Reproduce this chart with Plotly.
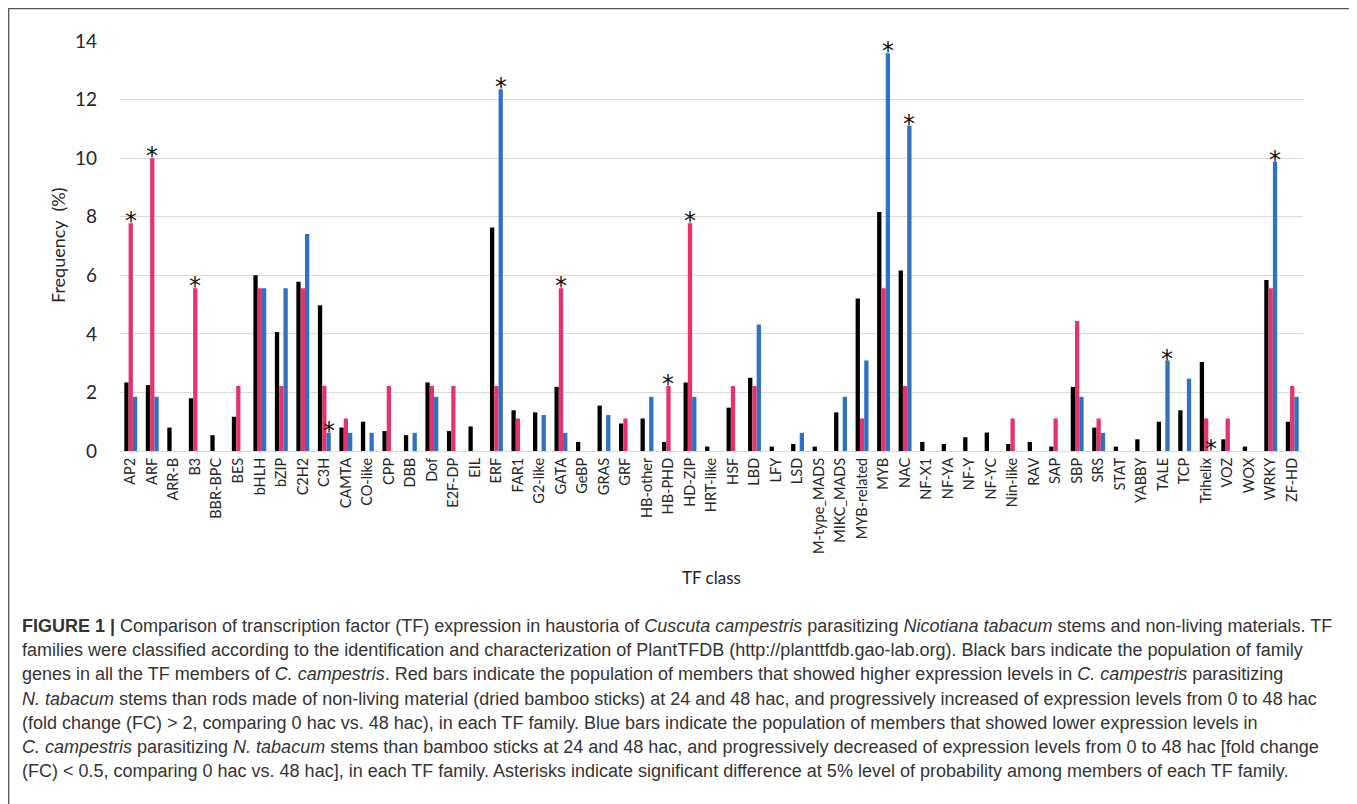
import plotly.graph_objects as go

categories = ["AP2", "ARF", "ARR-B", "B3", "BBR-BPC", "BES", "bHLH", "bZIP", "C2H2", "C3H",
              "CAMTA", "CO-like", "CPP", "DBB", "Dof", "E2F-DP", "EIL", "ERF", "FAR1", "G2-like",
              "GATA", "GeBP", "GRAS", "GRF", "HB-other", "HB-PHD", "HD-ZIP", "HRT-like", "HSF", "LBD",
              "LFY", "LSD", "M-type_MADS", "MIKC_MADS", "MYB-related", "MYB", "NAC", "NF-X1", "NF-YA", "NF-Y",
              "NF-YC", "Nin-like", "RAV", "SAP", "SBP", "SRS", "STAT", "YABBY", "TALE", "TCP",
              "Trihelix", "VOZ", "WOX", "WRKY", "ZF-HD"]

black_all = [2.34, 2.25, 0.80, 1.80, 0.54, 1.17, 6.00, 4.06, 5.78, 4.98,
             0.80, 1.00, 0.68, 0.54, 2.34, 0.68, 0.84, 7.63, 1.39, 1.32,
             2.19, 0.31, 1.55, 0.94, 1.11, 0.31, 2.34, 0.15, 1.48, 2.50,
             0.15, 0.24, 0.15, 1.32, 5.21, 8.16, 6.16, 0.31, 0.24, 0.47,
             0.63, 0.24, 0.31, 0.15, 2.19, 0.80, 0.15, 0.40, 1.00, 1.39,
             3.04, 0.40, 0.15, 5.84, 1.00]

red_up = [7.78, 10.00, 0, 5.56, 0, 2.22, 5.56, 2.22, 5.56, 2.22,
          1.11, 0, 2.22, 0, 2.22, 2.22, 0, 2.22, 1.11, 0,
          5.56, 0, 0, 1.11, 0, 2.22, 7.78, 0, 2.22, 2.22,
          0, 0, 0, 0, 1.11, 5.56, 2.22, 0, 0, 0,
          0, 1.11, 0, 1.11, 4.44, 1.11, 0, 0, 0, 0,
          1.11, 1.11, 0, 5.56, 2.22]

blue_down = [1.85, 1.85, 0, 0, 0, 0, 5.56, 5.56, 7.41, 0.62,
             0.62, 0.62, 0, 0.62, 1.85, 0, 0, 12.35, 0, 1.23,
             0.62, 0, 1.23, 0, 1.85, 0, 1.85, 0, 0, 4.32,
             0, 0.62, 0, 1.85, 3.09, 13.58, 11.11, 0, 0, 0,
             0, 0, 0, 0, 1.85, 0.62, 0, 0, 3.09, 2.47,
             0, 0, 0, 9.88, 1.85]

star_red = ["AP2", "ARF", "B3", "GATA", "HB-PHD", "HD-ZIP"]
star_blue = ["C3H", "ERF", "MYB", "NAC", "TALE", "Trihelix", "WRKY"]

y_ticks = [0, 2, 4, 6, 8, 10, 12, 14]

caption_lines = [
    "<b>FIGURE 1 |</b> Comparison of transcription factor (TF) expression in haustoria of <i>Cuscuta campestris</i> parasitizing <i>Nicotiana tabacum</i> stems and non-living materials. TF",
    "families were classified according to the identification and characterization of PlantTFDB (http://planttfdb.gao-lab.org). Black bars indicate the population of family",
    "genes in all the TF members of <i>C. campestris</i>. Red bars indicate the population of members that showed higher expression levels in <i>C. campestris</i> parasitizing",
    "<i>N. tabacum</i> stems than rods made of non-living material (dried bamboo sticks) at 24 and 48 hac, and progressively increased of expression levels from 0 to 48 hac",
    "(fold change (FC) &gt; 2, comparing 0 hac vs. 48 hac), in each TF family. Blue bars indicate the population of members that showed lower expression levels in",
    "<i>C. campestris</i> parasitizing <i>N. tabacum</i> stems than bamboo sticks at 24 and 48 hac, and progressively decreased of expression levels from 0 to 48 hac [fold change",
    "(FC) &lt; 0.5, comparing 0 hac vs. 48 hac], in each TF family. Asterisks indicate significant difference at 5% level of probability among members of each TF family.",
]

# page body margin offsets the figure by 8px; positions below are in screen pixels
OFF = 8
W, H = 1349, 796
L = 120 - OFF
T = 41 - OFF
R = W - (1303 - OFF)
B = H - (451 - OFF)
PW, PH = W - L - R, H - T - B


def px_x(px):
    return (px - OFF - L) / PW


def px_y(py):
    return (H - B - (py - OFF)) / PH


BLACK, RED, BLUE = "#000000", "#E8336A", "#2F72C4"
FONT = "Lato"

fig = go.Figure()
for name, vals, col in [("All", black_all, BLACK), ("Up", red_up, RED), ("Down", blue_down, BLUE)]:
    fig.add_trace(go.Bar(x=categories, y=vals, name=name, marker=dict(color=col, line=dict(width=0)),
                         showlegend=False))

annotations = []
star_font = dict(family="DejaVu Sans", size=24, color="#111111")
for cat in star_red:
    i = categories.index(cat)
    annotations.append(dict(x=i + 0.0, y=red_up[i], xref="x", yref="y", text="*", showarrow=False,
                            yanchor="middle", xanchor="center", yshift=2, font=star_font))
for cat in star_blue:
    i = categories.index(cat)
    annotations.append(dict(x=i + 0.2, y=blue_down[i], xref="x", yref="y", text="*", showarrow=False,
                            yanchor="middle", xanchor="center", yshift=2, font=star_font))

# axis titles
annotations.append(dict(x=px_x(58), y=px_y(246), xref="paper", yref="paper", text="Frequency  (%)",
                        textangle=-90, showarrow=False, xanchor="center", yanchor="middle",
                        font=dict(family=FONT, size=18, color="#262626")))
annotations.append(dict(x=px_x(711), y=px_y(577), xref="paper", yref="paper", text="TF class",
                        showarrow=False, xanchor="center", yanchor="middle",
                        font=dict(family=FONT, size=17, color="#262626")))

# caption
for k, line in enumerate(caption_lines):
    annotations.append(dict(x=px_x(20), y=px_y(626 + k * 24.2), xref="paper", yref="paper", text=line,
                            showarrow=False, xanchor="left", yanchor="middle", align="left",
                            font=dict(family="Liberation Sans", size=18, color="#333333")))

fig.update_layout(
    width=W, height=H,
    margin=dict(l=L, r=R, t=T, b=B, autoexpand=False),
    paper_bgcolor="white", plot_bgcolor="white",
    barmode="group", bargap=0.4, bargroupgap=0,
    annotations=annotations,
    shapes=[dict(type="rect", xref="paper", yref="paper",
                 x0=px_x(8.7), x1=px_x(1355.5), y0=px_y(830), y1=px_y(8.7),
                 line=dict(color="#555555", width=1.3), fillcolor="rgba(0,0,0,0)", layer="below")],
    xaxis=dict(type="category", tickangle=-90, showgrid=False, showline=True, linecolor="#d9d9d9",
               linewidth=1, ticks="", tickfont=dict(family=FONT, size=14.5, color="#262626"),
               automargin=False),
    yaxis=dict(range=[0, 14], tickvals=y_ticks, showgrid=True, gridcolor="#d9d9d9", gridwidth=1,
               zeroline=False, showline=False, ticks="", ticklabelstandoff=22,
               tickfont=dict(family=FONT, size=19, color="#262626"), automargin=False),
)

fig.write_html("out.html")
